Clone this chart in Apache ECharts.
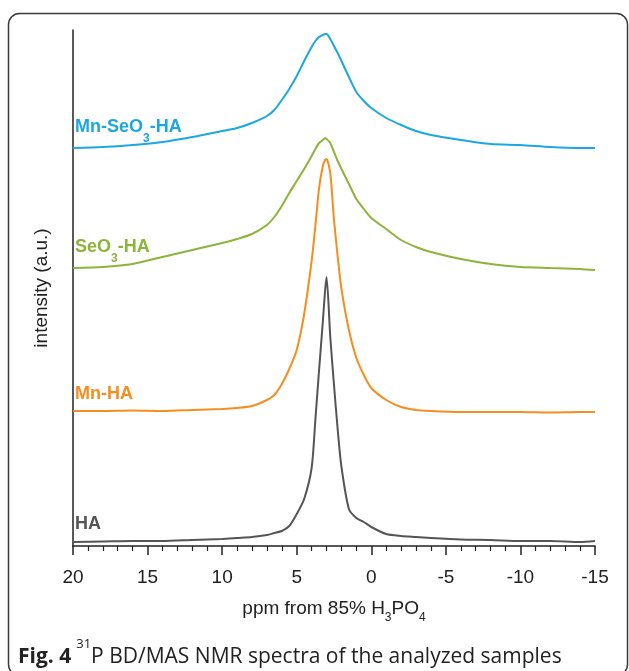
<!DOCTYPE html>
<html>
<head>
<meta charset="utf-8">
<script src="https://cdn.jsdelivr.net/npm/echarts@6/dist/echarts.min.js"></script>
<style>
html,body{margin:0;padding:0;background:#fff;}
#chart{width:629px;height:671px;}
</style>
</head>
<body>
<div id="chart"></div>
<script>
// chemical shift grid (ppm)
const ppm = [20,18,16,14,12,10,9,8,7,6.5,6,5.5,5,4.5,4,3.75,3.5,3.25,3.1,3.0,2.75,2.5,2.25,2,1.5,1,0.5,0,-1,-2,-3,-4,-6,-8,-10,-12,-14,-15];
// stacked intensities (a.u., offset spectra)
const HA        = [4,4.5,5,5,6,7,8,9,11,13,15,20,32,47,78,126,176,224,255,269,209,161,116,79,37,28,24,19,12,10,9,8,6.5,6,5,5,4,5];
const MnHA      = [135,135,135.5,135,136,137,138,140,146,151,162,177,196,232,285,320,358,380,386,387,373,326,289,257,216,188,171,158,146,139,136,135,134,134,134,133.5,134,134];
const SeO3HA    = [278,279,282,289,296,303,307,312,321,329,340,353,365,377,390,397,403,406,408,407,403,394,385,377,362,347,337,328,317,306,299,294,287,282,279,278,277,276];
const MnSeO3HA  = [398,399,401,404,409,415,418,423,430,436,446,457,470,485,499,505,509,511,512,512,507,500,493,485,469,454,445,438,428,421,415,411,406,402,401,399,398,398];
const xTicks = [20,15,10,5,0,-5,-10,-15];

const seriesDefs = [
  {name:'HA', data:HA, color:'#555555', label:'{a|HA}', ly:515},
  {name:'Mn-HA', data:MnHA, color:'#f68d1f', label:'{a|Mn-HA}', ly:385},
  {name:'SeO3-HA', data:SeO3HA, color:'#8db43a', label:'{a|SeO}{s|3}{a|-HA}', ly:238},
  {name:'Mn-SeO3-HA', data:MnSeO3HA, color:'#1ba7e1', label:'{a|Mn-SeO}{s|3}{a|-HA}', ly:118}
];

const chart = echarts.init(document.getElementById('chart'));
const font = '"Liberation Sans", Arial, sans-serif';
const cap = '"Open Sans", sans-serif';

const labelGraphics = seriesDefs.map(d => ({
  type:'text', left:75, top:d.ly, z:10,
  style:{
    text:d.label,
    rich:{
      a:{fontSize:18, fontWeight:'bold', fontFamily:font, fill:d.color, lineHeight:18, verticalAlign:'top'},
      s:{fontSize:12, fontWeight:'bold', fontFamily:font, fill:d.color, lineHeight:42, verticalAlign:'middle'}
    }
  }
}));

chart.setOption({
  animation:false,
  backgroundColor:'#ffffff',
  title:{
    text:'{b|Fig. 4} {sup|31}{r|P BD/MAS NMR spectra of the analyzed samples}',
    left:13, top:633,
    textStyle:{
      fontWeight:'normal',
      rich:{
        b:{fontSize:21, fontWeight:'bold', fontFamily:cap, color:'#222', lineHeight:38, verticalAlign:'middle'},
        sup:{fontSize:13, fontWeight:'normal', fontFamily:cap, color:'#222', lineHeight:12, verticalAlign:'top'},
        r:{fontSize:21, fontWeight:'normal', fontFamily:cap, color:'#222', lineHeight:38, verticalAlign:'middle'}
      }
    }
  },
  grid:{left:73, right:34, top:30, bottom:125, containLabel:false},
  xAxis:{
    type:'value', inverse:true, min:-15, max:20, interval:5,
    name:'{t|ppm from 85% H}{s|3}{t|PO}{s|4}',
    nameLocation:'middle', nameGap:53,
    nameTextStyle:{
      rich:{
        t:{fontSize:19, fontFamily:font, color:'#222', lineHeight:19, verticalAlign:'top'},
        s:{fontSize:12, fontFamily:font, color:'#222', lineHeight:38, verticalAlign:'middle'}
      }
    },
    axisLine:{show:true, onZero:false, lineStyle:{color:'#222', width:1.5}},
    axisTick:{show:true, length:9, lineStyle:{color:'#222', width:1.5}},
    minorTick:{show:true, splitNumber:5, length:5, lineStyle:{color:'#222', width:1.2}},
    splitLine:{show:false},
    minorSplitLine:{show:false},
    axisLabel:{fontSize:19, fontFamily:font, color:'#222', margin:22,
      formatter:v => xTicks.includes(v) ? String(v) : ''}
  },
  yAxis:{
    type:'value', min:0, max:516,
    name:'intensity (a.u.)', nameLocation:'middle', nameGap:22, nameRotate:90,
    nameTextStyle:{fontSize:19, fontFamily:font, color:'#222'},
    axisLine:{show:true, onZero:false, lineStyle:{color:'#222', width:1.5}},
    axisTick:{show:false}, axisLabel:{show:false}, splitLine:{show:false}
  },
  graphic:[
    {type:'rect', z:-1, shape:{x:8.5, y:13.5, width:619, height:662, r:11},
     style:{fill:'none', stroke:'#3a3a3a', lineWidth:1.5}},
    ...labelGraphics
  ],
  series:seriesDefs.map(d => ({
    name:d.name, type:'line', showSymbol:false, smooth:0.25,
    data:ppm.map((p,i) => [p, d.data[i]]),
    lineStyle:{color:d.color, width:2},
    itemStyle:{color:d.color}
  }))
});
</script>
</body>
</html>
